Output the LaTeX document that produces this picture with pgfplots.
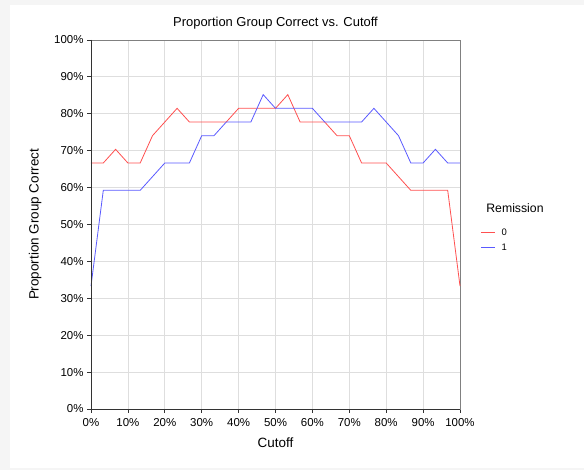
\documentclass[border=0pt]{standalone}
\usepackage{pgfplots}
\pgfplotsset{compat=1.18}
\usepackage{fontspec}
\setmainfont{Liberation Sans}
\definecolor{rline}{RGB}{255,80,80}
\definecolor{bline}{RGB}{90,90,255}
\definecolor{gridc}{RGB}{222,222,222}
\definecolor{bgc}{RGB}{245,245,245}
\begin{document}
\begin{tikzpicture}
\fill[bgc] (0,0) rectangle (584bp,470bp);
\fill[white] (10bp,2bp) rectangle (584bp,465bp);
\path[use as bounding box] (0,0) rectangle (584bp,470bp);
\begin{axis}[
  at={(91bp,61bp)}, anchor=south west,
  scale only axis, width=369bp, height=369bp,
  xmin=0, xmax=100, ymin=0, ymax=100,
  axis line style={gray, line width=0.8pt},
  xtick pos=bottom, ytick pos=left,
  xtick={0,10,...,100}, ytick={0,10,...,100},
  xticklabels={0\%,10\%,20\%,30\%,40\%,50\%,60\%,70\%,80\%,90\%,100\%},
  yticklabels={0\%,10\%,20\%,30\%,40\%,50\%,60\%,70\%,80\%,90\%,100\%},
  tick align=outside, major tick length=4bp, tick style={black!80, line width=0.8pt},
  grid=major, grid style={gridc, line width=0.8pt},
  ticklabel style={font=\fontsize{11.5}{13}\selectfont},
  xticklabel style={yshift=-2bp},
  title={Proportion Group Correct vs. Cutoff},
  title style={font=\fontsize{13}{15}\selectfont, yshift=1bp},
  xlabel={Cutoff}, ylabel={Proportion Group Correct},
  label style={font=\fontsize{13.5}{15}\selectfont},
  xlabel style={yshift=-4bp},
  ylabel style={yshift=6bp},
  legend style={at={(1.048,0.5)}, anchor=north west, draw=none, fill=none,
    font=\fontsize{9.5}{10}\selectfont, row sep=3bp, column sep=4bp},
  legend cell align=left,
  legend image post style={xscale=0.82},
  clip=false,
]
\addplot[rline, line width=0.8pt] coordinates {
(0,66.67)(3.333,66.67)(6.667,70.37)(10,66.67)(13.333,66.67)(16.667,74.07)(20,77.78)(23.333,81.48)(26.667,77.78)(30,77.78)(33.333,77.78)(36.667,77.78)(40,81.48)(43.333,81.48)(46.667,81.48)(50,81.48)(53.333,85.19)(56.667,77.78)(60,77.78)(63.333,77.78)(66.667,74.07)(70,74.07)(73.333,66.67)(76.667,66.67)(80,66.67)(83.333,62.96)(86.667,59.26)(90,59.26)(93.333,59.26)(96.667,59.26)(100,33.33)};
\addlegendentry{0}
\addplot[bline, line width=0.8pt] coordinates {
(0,33.33)(3.333,59.26)(6.667,59.26)(10,59.26)(13.333,59.26)(16.667,62.96)(20,66.67)(23.333,66.67)(26.667,66.67)(30,74.07)(33.333,74.07)(36.667,77.78)(40,77.78)(43.333,77.78)(46.667,85.19)(50,81.48)(53.333,81.48)(56.667,81.48)(60,81.48)(63.333,77.78)(66.667,77.78)(70,77.78)(73.333,77.78)(76.667,81.48)(80,77.78)(83.333,74.07)(86.667,66.67)(90,66.67)(93.333,70.37)(96.667,66.67)(100,66.67)};
\addlegendentry{1}
\draw[black!80, line width=0.8pt] (rel axis cs:0,1) -- (rel axis cs:0,0) -- (rel axis cs:1,0);
\node[font=\fontsize{12.3}{14}\selectfont] at (rel axis cs:1.149,0.545) {Remission};
\end{axis}
\end{tikzpicture}
\end{document}
